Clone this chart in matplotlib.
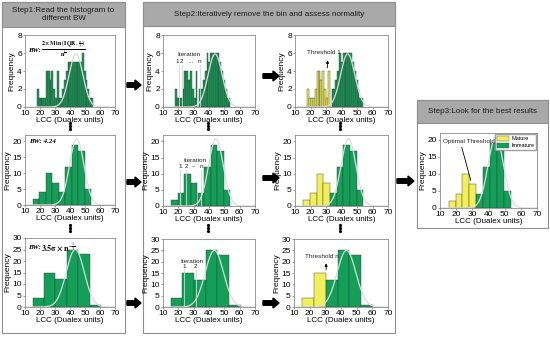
import matplotlib
matplotlib.use('Agg')
import matplotlib.pyplot as plt
from matplotlib.patches import Rectangle, FancyArrow, Patch
import numpy as np

plt.rcParams['font.family'] = ['Liberation Sans', 'DejaVu Sans']
plt.rcParams['mathtext.fontset'] = 'stix'

# ---- data ----
# top row: narrow bins (width 1.2 starting at 18)
fine_start, fine_width = 18.0, 1.2
fine_counts_step1 = [2, 1, 1, 1, 1, 4, 4, 3, 4, 2, 1, 4, 1, 1, 2, 3, 4, 5, 5, 5,
                     5, 5, 5, 5, 5, 6, 4, 3, 2, 1, 1]
fine_counts = [2, 1, 1, 1, 2, 4, 4, 3, 4, 2, 1, 4, 0, 2, 2, 3, 4, 6, 5, 6,
               6, 6, 6, 6, 5, 4, 3, 2, 1, 1]
fine_yellow = 12

# middle row: BW = 4.24
mid_start, mid_width = 15.3, 4.3
mid_counts = [2, 4, 10, 7, 4, 12, 19, 17, 5]
mid_yellow = 4

# bottom row: BW = 3.5 sigma n^-1/3
wide_start, wide_width = 15.0, 7.6
wide_counts = [4, 15, 12, 25, 23, 1]
wide_yellow = 2

# fitted normal curves: (mean, sd, peak height)
fine_fit = (44.0, 4.6, 5.9)
mid_fit = (44.5, 4.8, 20.8)
wide_fit = (43.5, 6.0, 25.0)

xticks = [10, 20, 30, 40, 50, 60, 70]
green = '#12a058'
yellow = '#f2f05a'

W, H = 550, 338
fig = plt.figure(figsize=(5.5, 3.38), dpi=100)
bg = fig.add_axes([0, 0, 1, 1], zorder=0)
bg.set_xlim(0, W)
bg.set_ylim(H, 0)
bg.axis('off')


def frame(x0, y0, x1, y1, yh, title):
    bg.add_patch(Rectangle((x0, y0), x1 - x0, y1 - y0, fc='white', ec='#8f8f8f', lw=0.8))
    bg.add_patch(Rectangle((x0, y0), x1 - x0, yh - y0, fc='#a9a9a9', ec='#8f8f8f', lw=0.8))
    bg.text((x0 + x1) / 2, (y0 + yh) / 2, title, ha='center', va='center',
            fontsize=5.8, linespacing=1.15, color='#1a1a1a')


def arrow(x0, x1, y):
    bg.add_patch(FancyArrow(x0, y, x1 - x0, 0, width=4.5, head_width=10, head_length=6,
                            length_includes_head=True, fc='black', ec='black'))


def vdots(x, y):
    bg.plot([x, x, x], [y - 3, y, y + 3], 'o', ms=1.3, color='black')


def hist_ax(l, t, r, b, start, width, counts, n_yellow, fit, ymax, yticks):
    ax = fig.add_axes([l / W, 1 - b / H, (r - l) / W, (b - t) / H], zorder=2)
    lefts = start + width * np.arange(len(counts))
    colors = [yellow if i < n_yellow else green for i in range(len(counts))]
    ax.bar(lefts, counts, width=width, align='edge', color=colors,
           edgecolor='#3a3a3a', lw=0.3)
    mu, sd, peak = fit
    xs = np.linspace(10, 70, 300)
    ax.plot(xs, peak * np.exp(-0.5 * ((xs - mu) / sd) ** 2), color='#dcdcdc', lw=0.9)
    ax.set_xlim(10, 70)
    ax.set_ylim(0, ymax)
    ax.set_xticks(xticks)
    ax.set_yticks(yticks)
    ax.set_xlabel('LCC (Dualex units)', fontsize=5.8, labelpad=0)
    ax.set_ylabel('Frequency', fontsize=6, labelpad=1)
    ax.tick_params(labelsize=6, length=1.5, width=0.4, pad=0.8, color='#555555')
    for s in ax.spines.values():
        s.set_color('#8a8a8a')
        s.set_linewidth(0.6)
    return ax


frame(2, 2, 125, 333, 27, 'Step1:Read the histogram to\ndifferent BW')
frame(143, 2, 395, 333, 26, 'Step2:Iteratively remove the bin and assess normality')
frame(417, 100, 548, 228, 123, 'Step3:Look for the best results')

for y in (85, 182, 303):
    arrow(127, 141, y)
for y in (76, 178, 303):
    arrow(263, 279, y)
arrow(397, 414, 181)

for x in (70, 208, 340):
    vdots(x, 126)
    vdots(x, 228)

ft = dict(fontsize=4.6, ha='center', va='center', color='#222222')
bwfont = dict(family='Liberation Serif', fontweight='bold', fontstyle='italic', fontsize=5)

# ---- step 1 ----
a = hist_ax(25, 35, 115, 107, fine_start, fine_width, fine_counts_step1, 0, fine_fit, 8, [0, 2, 4, 6, 8])
a.text(12.0, 6.3, 'BW:', va='center', **bwfont)
a.text(20.6, 6.45,
       r'$\frac{\mathbf{2\times Min}\ (\mathbf{IQR},\ \frac{\sigma}{3})}{\mathbf{n}^{\frac{1}{3}}}$',
       fontsize=6.1, va='center', ha='left')
a = hist_ax(25, 135, 115, 205, mid_start, mid_width, mid_counts, 0, mid_fit, 22, [0, 5, 10, 15, 20])
a.text(12.5, 19.8, 'BW: 4.24', va='center', **bwfont)
a = hist_ax(25, 238, 115, 307, wide_start, wide_width, wide_counts, 0, wide_fit, 30, [0, 5, 10, 15, 20, 25, 30])
a.text(12.3, 25.8, 'BW:', va='center', **bwfont)
a.text(20.5, 25.8, r'$\mathbf{3.5\sigma\times n}^{-\frac{1}{3}}$', fontsize=5.8, va='center')

# ---- step 2, left column ----
a = hist_ax(163, 35, 255, 107, fine_start, fine_width, fine_counts, 0, fine_fit, 8, [0, 2, 4, 6, 8])
a.text(27, 5.8, 'Iteration', **ft)
for x, s in ((19.6, '1'), (21.8, '2'), (28, '...'), (34, 'n')):
    a.text(x, 5.1, s, **ft)
for x in (20.3, 22.4, 34.0):
    a.plot([x, x], [0, 4.7], color='#d5d5d5', lw=0.6)
a = hist_ax(163, 135, 255, 206, mid_start, mid_width, mid_counts, 0, mid_fit, 22, [0, 5, 10, 15, 20])
a.text(31, 14, 'Iteration', **ft)
for x, s in ((21.3, '1'), (25, '2'), (30, '--'), (35, 'n')):
    a.text(x, 12.3, s, **ft)
for x in (21.3, 25.0, 35.0):
    a.plot([x, x], [0, 11.3], color='#d5d5d5', lw=0.6)
a = hist_ax(163, 239, 255, 307, wide_start, wide_width, wide_counts, 0, wide_fit, 30, [0, 5, 10, 15, 20, 25, 30])
a.text(28.6, 20, 'Iteration', **ft)
for x, s in ((24, '1'), (31.4, '2')):
    a.text(x, 17.9, s, **ft)
    a.plot([x, x], [0, 16.8], color='#d5d5d5', lw=0.6)

# ---- step 2, right column ----
aline = dict(arrowstyle='-|>', color='black', lw=0.6, mutation_scale=4)
a = hist_ax(295, 35, 388, 107, fine_start, fine_width, fine_counts, fine_yellow, fine_fit, 8, [0, 2, 4, 6, 8])
a.text(28.5, 6.1, 'Threshold 1', **ft)
a.annotate('', xy=(31, 5.5), xytext=(31, 4.05), arrowprops=aline)
a = hist_ax(295, 135, 388, 206, mid_start, mid_width, mid_counts, mid_yellow, mid_fit, 22, [0, 5, 10, 15, 20])
a = hist_ax(294, 239, 388, 307, wide_start, wide_width, wide_counts, wide_yellow, wide_fit, 30, [0, 5, 10, 15, 20, 25, 30])
a.text(28, 22.2, 'Threshold n', **ft)
a.annotate('', xy=(30.5, 20.5), xytext=(30.5, 15.2), arrowprops=aline)

# ---- step 3 ----
a = hist_ax(440, 133, 537, 208, mid_start, mid_width, mid_counts, mid_yellow, mid_fit, 22, [0, 5, 10, 15, 20])
a.text(27.6, 19.5, 'Optimal Threshold', **ft)
a.annotate('', xy=(29.5, 7.3), xytext=(23, 18.6), arrowprops=dict(arrowstyle='-', color='black', lw=0.6))
a.legend(handles=[Patch(fc=yellow, ec='#555555', lw=0.3, label='Mature'),
                  Patch(fc=green, ec='#555555', lw=0.3, label='Immature')],
         loc='upper right', fontsize=4, frameon=True, fancybox=False, edgecolor='#888888',
         borderpad=0.3, handlelength=2.2, handleheight=1.2, labelspacing=0.2,
         handletextpad=0.4, borderaxespad=0.2)

fig.savefig('out.png', dpi=100)
